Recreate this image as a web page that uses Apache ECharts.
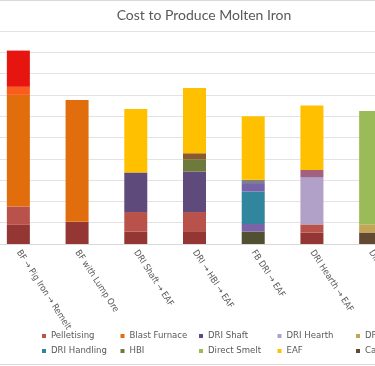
<!DOCTYPE html>
<html>
<head>
<meta charset="utf-8">
<script src="https://cdn.jsdelivr.net/npm/echarts@6/dist/echarts.min.js"></script>
<style>
html,body{margin:0;padding:0;background:#fff;}
#c{width:375px;height:366px;}
</style>
</head>
<body>
<div id="c"></div>
<script>
// ---- data ----
const categories = ["BF → Pig Iron → Remelt", "BF with Lump Ore", "DRI Shaft → EAF", "DRI → HBI → EAF", "FB DRI → EAF", "DRI Hearth → EAF", "Direct Smelt → EAF"];
const ironOre      = [45, 52, 29, 30, 0, 27, 0];
const oreFines     = [0, 0, 0, 0, 29, 0, 0];
const casting      = [0, 0, 0, 0, 0, 0, 27];
const pelletising  = [43, 0, 46, 45, 0, 19, 0];
const driFluidBed  = [0, 0, 0, 0, 0, 0, 19];
const fbPelletFeed = [0, 0, 0, 0, 18, 0, 0];
const blastFurnace = [262, 286, 0, 0, 0, 0, 0];
const pigCasting   = [19, 0, 0, 0, 0, 0, 0];
const remelt       = [85, 0, 0, 0, 0, 0, 0];
const driShaft     = [0, 0, 93, 95, 0, 0, 0];
const driHandling  = [0, 0, 0, 0, 76, 0, 0];
const fbReduction  = [0, 0, 0, 0, 20, 0, 0];
const fbScreening  = [0, 0, 0, 0, 8, 0, 0];
const driHearth    = [0, 0, 0, 0, 0, 111, 0];
const hearthMelt   = [0, 0, 0, 0, 0, 17, 0];
const hbi          = [0, 0, 0, 29, 0, 0, 0];
const hbiShipping  = [0, 0, 0, 14, 0, 0, 0];
const directSmelt  = [0, 0, 0, 0, 0, 0, 266];
const eaf          = [0, 0, 149, 153, 149, 151, 0];
const yMax = 500, yStep = 50;
const legendRow1 = ["Pelletising", "Blast Furnace", "DRI Shaft", "DRI Hearth", "DRI Fluid Bed"];
const legendRow2 = ["DRI Handling", "HBI", "Direct Smelt", "EAF", "Casting"];

// ---- series (stack order bottom -> top) ----
const seriesDefs = [
  ["Iron Ore", ironOre, "#933634"],
  ["Ore Fines", oreFines, "#515032"],
  ["Casting", casting, "#634832"],
  ["Pelletising", pelletising, "#B8524B"],
  ["DRI Fluid Bed", driFluidBed, "#C4A455"],
  ["FB Pellet Feed", fbPelletFeed, "#7A63A6"],
  ["Blast Furnace", blastFurnace, "#E26D0C"],
  ["Pig Casting", pigCasting, "#FA5C1C"],
  ["Remelt", remelt, "#E61510"],
  ["DRI Shaft", driShaft, "#5F4A7C"],
  ["DRI Handling", driHandling, "#31859C"],
  ["FB Reduction", fbReduction, "#7663A8"],
  ["FB Screening", fbScreening, "#808080"],
  ["DRI Hearth", driHearth, "#B1A0C8"],
  ["Hearth Melt", hearthMelt, "#A2627F"],
  ["HBI", hbi, "#6E7A3C"],
  ["HBI Shipping", hbiShipping, "#8A5A2E"],
  ["Direct Smelt", directSmelt, "#9BBB59"],
  ["EAF", eaf, "#FFC000"]
];

const font = "Lato";
const narrow = "'Liberation Sans Narrow', 'DejaVu Sans Condensed', Lato, sans-serif";
const textColor = "#595959";
const colX = [42, 120.5, 199, 277.5, 356];
const legends = [];
legendRow1.forEach((n, i) => legends.push({data: [n], left: colX[i], top: 331}));
legendRow2.forEach((n, i) => legends.push({data: [n], left: colX[i], top: 346}));
legends.forEach(l => Object.assign(l, {
  icon: "rect", itemWidth: 4, itemHeight: 4, padding: 0, itemGap: 0,
  selectedMode: false,
  textStyle: {fontFamily: narrow, fontSize: 9.5, color: textColor}
}));

const chart = echarts.init(document.getElementById("c"), null, {renderer: "canvas"});
chart.setOption({
  animation: false,
  backgroundColor: "#fff",
  title: {
    text: "Cost to Produce Molten Iron",
    left: 199, top: 3, textAlign: "center",
    textStyle: {fontFamily: font, fontSize: 14, fontWeight: "normal", color: textColor}
  },
  legend: legends,
  grid: {left: -11, right: -25, top: 31, bottom: 122, containLabel: false, outerBoundsMode: "none"},
  xAxis: {
    type: "category",
    data: categories,
    axisLine: {lineStyle: {color: "#D9D9D9"}},
    axisTick: {show: false},
    axisLabel: {interval: 0, rotate: -57, margin: 7, fontFamily: narrow, fontSize: 9, color: textColor}
  },
  yAxis: {
    type: "value", min: 0, max: yMax, interval: yStep,
    axisLabel: {show: false},
    axisLine: {show: false}, axisTick: {show: false},
    splitLine: {lineStyle: {color: "#E3E3E3", width: 1}}
  },
  series: seriesDefs.map(([name, data, color]) => ({
    name, type: "bar", stack: "cost", data,
    barWidth: 23,
    itemStyle: {color},
    emphasis: {disabled: true}
  })),
  graphic: [{
    type: "rect", silent: true,
    shape: {x: -5, y: 0.5, width: 390, height: 364},
    style: {fill: "none", stroke: "#D9D9D9", lineWidth: 1}
  }]
});
</script>
</body>
</html>
